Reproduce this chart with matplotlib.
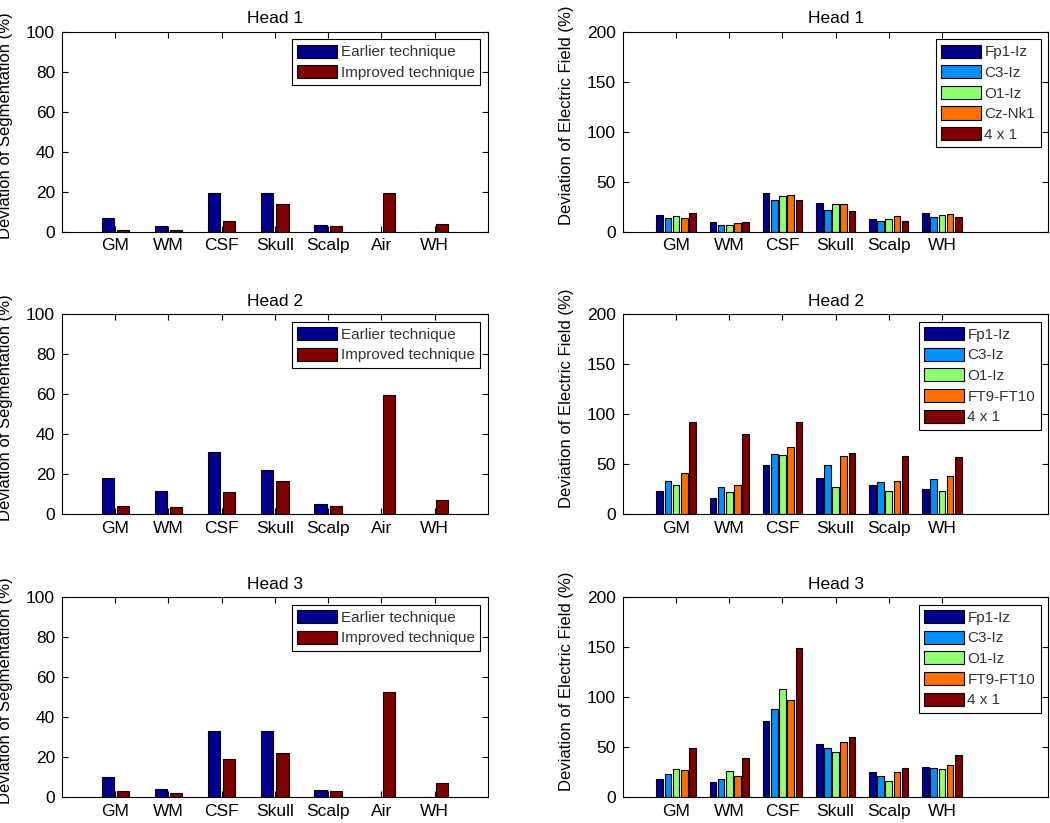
import numpy as np
import matplotlib
matplotlib.use('Agg')
import matplotlib.pyplot as plt

plt.rcParams['font.family'] = ['Liberation Sans', 'DejaVu Sans']

# Segmentation deviation data (left column)
tissues_seg = ['GM', 'WM', 'CSF', 'Skull', 'Scalp', 'Air', 'WH']
seg_labels = ['Earlier technique', 'Improved technique']
seg_earlier = [
    [6.8, 2.8, 19.2, 19.2, 3.3, 0, 0],
    [18.1, 11.7, 31.1, 22.1, 5.2, 0, 0],
    [10.2, 3.8, 33.2, 33.2, 3.3, 0, 0],
]
seg_improved = [
    [0.8, 0.8, 5.3, 13.8, 2.8, 19.2, 4.0],
    [4.2, 3.7, 11.2, 16.7, 4.2, 59.5, 7.2],
    [2.8, 1.8, 19.2, 22.2, 2.8, 52.5, 6.8],
]

# Electric field deviation data (right column)
tissues_ef = ['GM', 'WM', 'CSF', 'Skull', 'Scalp', 'WH']
ef_labels = [
    ['Fp1-Iz', 'C3-Iz', 'O1-Iz', 'Cz-Nk1', '4 x 1'],
    ['Fp1-Iz', 'C3-Iz', 'O1-Iz', 'FT9-FT10', '4 x 1'],
    ['Fp1-Iz', 'C3-Iz', 'O1-Iz', 'FT9-FT10', '4 x 1'],
]
# rows: montage, columns: tissue
ef_head1 = [
    [16.7, 9.7, 38.3, 28.3, 12.7, 18.7],
    [13.7, 6.3, 31.3, 21.7, 10.7, 14.7],
    [15.7, 6.3, 35.7, 27.7, 12.7, 16.7],
    [13.7, 8.7, 36.7, 27.7, 15.7, 17.7],
    [18.7, 9.7, 31.3, 20.3, 10.7, 14.7],
]
ef_head2 = [
    [23.0, 16.0, 48.7, 35.7, 28.7, 24.7],
    [32.7, 26.7, 59.7, 48.7, 31.7, 34.7],
    [28.7, 21.7, 58.7, 26.7, 22.7, 22.7],
    [40.7, 28.7, 66.7, 57.7, 32.7, 37.7],
    [92.3, 79.7, 91.7, 60.7, 57.7, 56.7],
]
ef_head3 = [
    [17.7, 14.7, 76.3, 53.3, 24.7, 30.3],
    [22.7, 18.3, 88.3, 49.3, 21.3, 29.3],
    [28.3, 26.3, 108.3, 45.3, 15.7, 28.3],
    [27.3, 21.3, 97.3, 55.3, 24.7, 32.3],
    [49.3, 39.3, 149.0, 60.3, 29.3, 42.3],
]
ef_data = [ef_head1, ef_head2, ef_head3]

seg_colors = ['#00008F', '#800000']
ef_colors = ['#00008F', '#0090FF', '#90FF70', '#FF7000', '#800000']


def matlab_bar(ax, groups, colors, labels):
    # grouped bars laid out like MATLAB's bar()
    n = len(groups)
    m = len(groups[0])
    x = np.arange(1, m + 1)
    gw = min(0.8, n / (n + 1.5))
    step = gw / n
    for i, (vals, c, lab) in enumerate(zip(groups, colors, labels)):
        off = -gw / 2 + step * (i + 0.5)
        ax.bar(x + off, vals, width=step * 0.8, color=c, edgecolor='black',
               linewidth=0.8, label=lab, zorder=2)
    return x


def style_axes(ax, label, ly):
    ax.tick_params(direction='in', top=True, right=True, length=4,
                   labelsize=12.5, width=0.8, pad=5)
    for s in ax.spines.values():
        s.set_linewidth(0.8)
    ax.set_ylabel(label, fontsize=12)
    ax.yaxis.set_label_coords(-0.115, ly)
    leg = ax.legend(loc='upper right', fontsize=11, handlelength=2.6,
                    handleheight=0.95, handletextpad=0.25, labelspacing=0.38,
                    borderpad=0.35, fancybox=False, framealpha=1,
                    edgecolor='black', borderaxespad=0.5)
    leg.get_frame().set_linewidth(0.8)
    for t in leg.get_texts():
        t.set_color('#333333')


fig = plt.figure(figsize=(10.5, 8.23), dpi=100)
bottoms = [0.7187, 0.3755, 0.0316]
h = 0.243

for r in range(3):
    # left: segmentation
    ax = fig.add_axes([0.059, bottoms[r], 0.4057, h])
    x = matlab_bar(ax, [seg_earlier[r], seg_improved[r]], seg_colors, seg_labels)
    ax.set_xlim(0, 8)
    ax.set_ylim(0, 100)
    ax.set_yticks([0, 20, 40, 60, 80, 100])
    ax.set_xticks(x)
    ax.set_xticklabels(tissues_seg)
    ax.set_title('Head %d' % (r + 1), fontsize=12.5, pad=6)
    style_axes(ax, 'Deviation of Segmentation (%)', 0.53)

    # right: electric field
    ax = fig.add_axes([0.5933, bottoms[r], 0.405, h])
    x = matlab_bar(ax, ef_data[r], ef_colors, ef_labels[r])
    ax.set_xlim(0, 8)
    ax.set_ylim(0, 200)
    ax.set_yticks([0, 50, 100, 150, 200])
    ax.set_xticks(x)
    ax.set_xticklabels(tissues_ef)
    ax.set_title('Head %d' % (r + 1), fontsize=12.5, pad=6)
    style_axes(ax, 'Deviation of Electric Field (%)', 0.58)

fig.savefig('out.png', dpi=100)
